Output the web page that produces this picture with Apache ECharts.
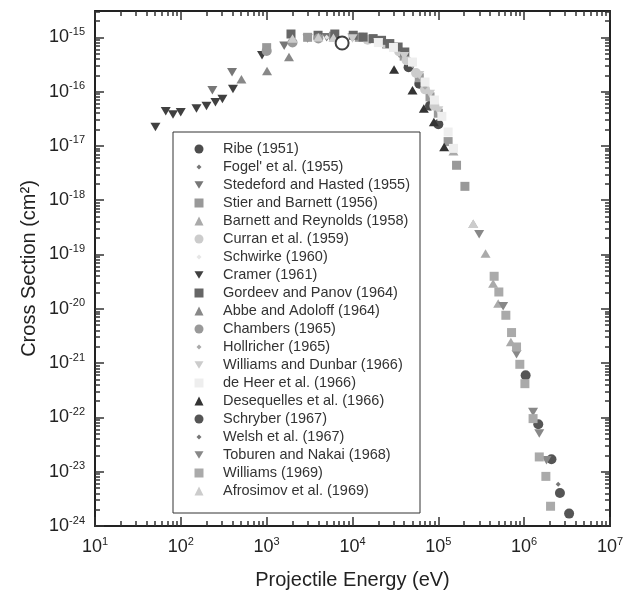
<!DOCTYPE html>
<html>
<head>
<meta charset="utf-8">
<script src="https://cdn.jsdelivr.net/npm/echarts@6/dist/echarts.min.js"></script>
<style>html,body{margin:0;padding:0;background:#fff}#main{width:624px;height:598px}</style>
</head>
<body>
<div id="main"></div>
<script>
// data: [energy (eV), cross section (cm^2)]
var ribe = [[4.5e4, 2.8e-16], [6e4, 1.4e-16], [8e4, 5.5e-17], [1e5, 2.5e-17]];
var fogel = [[1e4, 1.0e-15], [1.5e4, 9.5e-16], [2e4, 8.8e-16], [3e4, 7e-16]];
var stedeford = [[233, 1.06e-16], [395, 2.26e-16], [1600, 7.0e-16], [3000, 9.5e-16], [5000, 1.0e-15], [1e4, 9.8e-16], [2e4, 8.2e-16], [3.5e4, 5e-16]];
var stier = [[1000, 6.45e-16], [3000, 1.0e-15], [6000, 1.05e-15], [1.2e4, 1.0e-15], [2.5e4, 7.5e-16], [4e4, 4.5e-16], [6e4, 1.8e-16], [8e4, 8e-17], [1e5, 4e-17], [1.3e5, 1.2e-17], [1.63e5, 4.4e-18], [2.04e5, 1.8e-18]];
var barnett = [[1.5e5, 8e-18], [2.55e5, 3.7e-19], [3.55e5, 1.04e-19], [4.35e5, 2.91e-20], [4.98e5, 1.25e-20], [7.0e5, 2.45e-21]];
var curran = [[1.5e4, 9e-16], [2.5e4, 7.5e-16], [3.5e4, 5.5e-16], [4.26e4, 3.77e-16], [5.5e4, 2.2e-16], [7e4, 1.1e-16], [9e4, 5.5e-17]];
var schwirke = [[5e3, 1.0e-15], [1e4, 1.0e-15], [2e4, 8.5e-16]];
var cramer = [[50.6, 2.23e-17], [66.7, 4.34e-17], [81.1, 3.77e-17], [99.7, 4.16e-17], [152, 4.86e-17], [199, 5.43e-17], [253, 6.35e-17], [305, 7.31e-17], [405, 1.12e-16], [883, 4.65e-16]];
var gordeev = [[1920, 1.15e-15], [3970, 1.09e-15], [6220, 1.15e-15], [1.02e4, 1.09e-15], [1.33e4, 1.01e-15], [1.74e4, 9.46e-16], [2.18e4, 8.8e-16], [2.72e4, 7.66e-16], [3.4e4, 6.62e-16], [4.07e4, 5.36e-16]];
var abbe = [[508, 1.68e-16], [1010, 2.39e-16], [1820, 4.33e-16]];
var chambers = [[1000, 5.6e-16], [2000, 8e-16], [4000, 9.5e-16]];
var hollricher = [[3e4, 6e-16], [5e4, 3e-16], [7e4, 1.2e-16]];
var willDunbar = [[1e4, 9.5e-16], [2e4, 8e-16], [4e4, 4.5e-16], [6e4, 2e-16], [8e4, 9e-17], [1e5, 4.5e-17]];
var deHeer = [[2e4, 8e-16], [3e4, 6.5e-16], [5e4, 3.5e-16], [7e4, 1.5e-16], [9e4, 7e-17], [1.1e5, 3.5e-17], [1.3e5, 1.8e-17], [1.5e5, 9e-18]];
var desequelles = [[3.05e4, 2.54e-16], [5.0e4, 1.06e-16], [6.78e4, 4.86e-17], [8.87e4, 2.75e-17], [1.17e5, 9.55e-18]];
var schryber = [[1.04e6, 5.95e-22], [1.46e6, 7.46e-23], [2.08e6, 1.69e-23], [2.61e6, 4.05e-24], [3.34e6, 1.69e-24]];
var welsh = [[2.49e6, 5.86e-24]];
var toburen = [[2.99e5, 2.36e-19], [5.69e5, 1.11e-20], [8.15e5, 1.45e-21], [1.27e6, 1.26e-22], [1.5e6, 5.04e-23], [1.82e6, 1.62e-23]];
var williams = [[4.47e5, 3.97e-20], [5.07e5, 2.04e-20], [6.12e5, 7.6e-21], [7.13e5, 3.65e-21], [8.15e5, 1.98e-21], [8.9e5, 9.5e-22], [1.02e6, 4.18e-22], [1.27e6, 9.5e-23], [1.5e6, 1.87e-23], [1.79e6, 8.2e-24], [2.03e6, 2.31e-24]];
var afrosimov = [[2000, 9.5e-16], [4000, 1.0e-15], [6000, 9.8e-16], [2.55e5, 3.7e-19]];
var marked = [[7570, 7.85e-16]];

// decade tick values
var xTicks = [1e1, 1e2, 1e3, 1e4, 1e5, 1e6, 1e7];
var yTicks = [1e-24, 1e-23, 1e-22, 1e-21, 1e-20, 1e-19, 1e-18, 1e-17, 1e-16, 1e-15];

var names = ['Ribe (1951)', "Fogel' et al. (1955)", 'Stedeford and Hasted (1955)', 'Stier and Barnett (1956)',
  'Barnett and Reynolds (1958)', 'Curran et al. (1959)', 'Schwirke (1960)', 'Cramer (1961)',
  'Gordeev and Panov (1964)', 'Abbe and Adoloff (1964)', 'Chambers (1965)', 'Hollricher (1965)',
  'Williams and Dunbar (1966)', 'de Heer et al. (1966)', 'Desequelles et al. (1966)', 'Schryber (1967)',
  'Welsh et al. (1967)', 'Toburen and Nakai (1968)', 'Williams (1969)', 'Afrosimov et al. (1969)'];
var sets = [ribe, fogel, stedeford, stier, barnett, curran, schwirke, cramer, gordeev, abbe,
  chambers, hollricher, willDunbar, deHeer, desequelles, schryber, welsh, toburen, williams, afrosimov];
var colors = ['#4d4d4d', '#777', '#777', '#999', '#aaa', '#ccc', '#e6e6e6', '#404040', '#666', '#888',
  '#999', '#aaa', '#ccc', '#eee', '#333', '#555', '#777', '#888', '#aaa', '#ccc'];
var shapes = ['circle', 'diamond', 'down', 'rect', 'triangle'];

var xMinor = [], yMinor = [];
for (var d = 1; d < 7; d++) for (var k = 2; k < 10; k++) xMinor.push(k * Math.pow(10, d));
for (var d = -24; d < -14; d++) for (var k = 2; k < 10; k++) if (k * Math.pow(10, d) < 3.05e-15) yMinor.push(k * Math.pow(10, d));

var smallDiamond = 'path://M0,0M9,9M4.5,2L7,4.5L4.5,7L2,4.5Z';
var downTriangle = 'path://M0,0L10,0L5,8.5Z';

function powLabel(v) {
  return '{n|10}{e|' + Math.round(Math.log10(v)) + '}';
}
var rich = {
  n: {fontSize: 18, lineHeight: 22, color: '#222', fontFamily: 'Liberation Sans'},
  e: {fontSize: 11, lineHeight: 10, verticalAlign: 'top', color: '#222', fontFamily: 'Liberation Sans'}
};
var lineS = {color: '#222', width: 2};
var tickS = {color: '#333', width: 1.5};

function axis(kind, pos, minor, withLabel) {
  var a = {
    type: 'log', logBase: 10, position: pos,
    min: kind === 'x' ? 0.9999e1 : 0.9999e-24, max: kind === 'x' ? 1.0001e7 : 3.05e-15,
    axisLine: {show: !minor, onZero: false, lineStyle: lineS},
    axisTick: {inside: true, length: minor ? 5 : 9, lineStyle: tickS,
      customValues: minor ? (kind === 'x' ? xMinor : yMinor) : (kind === 'x' ? xTicks : yTicks)},
    axisLabel: {show: false},
    splitLine: {show: false}
  };
  if (withLabel) {
    a.axisLabel = {show: true, margin: 10, formatter: powLabel, rich: rich, hideOverlap: false,
      customValues: kind === 'x' ? xTicks : yTicks};
    a.name = kind === 'x' ? 'Projectile Energy (eV)' : 'Cross Section (cm²)';
    a.nameLocation = 'middle';
    a.nameGap = kind === 'x' ? 44 : 56;
    a.nameMoveOverlap = false;
    a.nameTextStyle = {fontSize: 20, color: '#222', fontFamily: 'Liberation Sans'};
  }
  return a;
}

var series = sets.map(function (s, i) {
  var sh = shapes[i % 5];
  var size = sh === 'diamond' ? 5 : sh === 'rect' ? 9 : sh === 'circle' ? 10 : [10, 8.5];
  return {
    name: names[i], type: 'scatter', data: s,
    xAxisIndex: 0, yAxisIndex: 0,
    symbol: sh === 'down' ? 'triangle' : sh,
    symbolRotate: sh === 'down' ? 180 : 0,
    symbolSize: size,
    itemStyle: {color: colors[i], opacity: 1}
  };
});
series.push({
  name: 'marked', type: 'scatter', data: marked, symbol: 'circle', symbolSize: 13,
  itemStyle: {color: '#fff', borderColor: '#111', borderWidth: 2}
});

var legendData = names.map(function (n, i) {
  var sh = shapes[i % 5];
  if (sh === 'diamond') return {name: n, icon: smallDiamond};
  if (sh === 'down') return {name: n, icon: downTriangle};
  return {name: n};
});

var chart = echarts.init(document.getElementById('main'));
chart.setOption({
  animation: false,
  backgroundColor: '#fff',
  grid: {left: 95, right: 14, top: 11, bottom: 72, outerBoundsMode: 'none', containLabel: false},
  xAxis: [axis('x', 'bottom', false, true), axis('x', 'top', false, false), axis('x', 'bottom', true, false), axis('x', 'top', true, false)],
  yAxis: [axis('y', 'left', false, true), axis('y', 'right', false, false), axis('y', 'left', true, false), axis('y', 'right', true, false)],
  legend: {
    data: legendData, orient: 'vertical', left: 173, top: 132,
    padding: [8, 10, 13, 21.5], itemWidth: 9, itemHeight: 9, itemGap: 0,
    borderColor: '#333', borderWidth: 1, backgroundColor: '#fff', selectedMode: false,
    textStyle: {fontSize: 14.5, lineHeight: 18, color: '#333', fontFamily: 'Liberation Sans', padding: [0, 0, 0, 14.5]}
  },
  series: series
});
</script>
</body>
</html>
